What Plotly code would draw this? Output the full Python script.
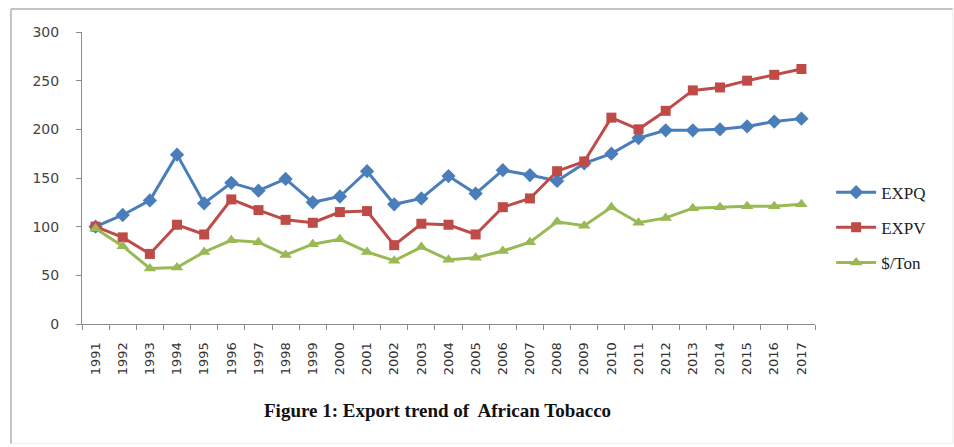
import plotly.graph_objects as go

years = [str(y) for y in range(1991, 2018)]
expq = [100, 112, 127, 174, 124, 145, 137, 149, 125, 131, 157, 123, 129, 152, 134,
        158, 153, 147, 165, 175, 191, 199, 199, 200, 203, 208, 211]
expv = [100, 89, 72, 102, 92, 128, 117, 107, 104, 115, 116, 81, 103, 102, 92,
        120, 129, 157, 167, 212, 200, 219, 240, 243, 250, 256, 262]
per_ton = [98, 80, 57, 58, 74, 86, 84, 71, 82, 87, 74, 65, 79, 66, 68,
           75, 84, 105, 101, 120, 104, 109, 119, 120, 121, 121, 123]
y_ticks = [0, 50, 100, 150, 200, 250, 300]
title_text = "Figure 1: Export trend of  African Tobacco"

fig = go.Figure()
fig.add_trace(go.Scatter(x=years, y=expq, name="EXPQ", mode="lines+markers", legendgroup="a",
                         line=dict(color="#4a7ebb", width=3),
                         marker=dict(symbol="diamond", size=11, color="#4a7ebb")))
fig.add_trace(go.Scatter(x=years, y=expv, name="EXPV", mode="lines+markers", legendgroup="b",
                         line=dict(color="#be4b48", width=3),
                         marker=dict(symbol="square", size=10, color="#be4b48")))
fig.add_trace(go.Scatter(x=years, y=per_ton, name="$/Ton", mode="lines+markers", legendgroup="c",
                         line=dict(color="#98b954", width=3),
                         marker=dict(symbol="triangle-up", size=11, color="#98b954")))

fig.update_layout(
    width=954, height=447,
    margin=dict(l=82, r=139, t=32, b=123),
    paper_bgcolor="white", plot_bgcolor="white",
    showlegend=True,
    legend=dict(x=1.022, y=0.33, xanchor="left", yanchor="middle",
                font=dict(family="Liberation Serif", size=17, color="#222"),
                itemwidth=40, tracegroupgap=10, bgcolor="rgba(0,0,0,0)"),
    xaxis=dict(type="category", tickangle=-90, showgrid=False,
               showline=True, linecolor="#8c8c8c", linewidth=1,
               ticks="outside", ticklen=5, tickcolor="#8c8c8c", tickson="boundaries",
               tickfont=dict(family="DejaVu Sans", size=13, color="#333"),
               ticklabelstandoff=12,
               range=[-0.5, 26.5]),
    yaxis=dict(range=[0, 300], tickvals=y_ticks, showgrid=False,
               showline=True, linecolor="#8c8c8c", linewidth=1,
               ticks="outside", ticklen=5, tickcolor="#8c8c8c",
               tickfont=dict(family="DejaVu Sans", size=14, color="#444"),
               ticklabelstandoff=14,
               zeroline=False),
    annotations=[dict(text="<b>" + title_text + "</b>", xref="paper", yref="paper",
                      x=0.485, y=-0.295, xanchor="center", yanchor="middle",
                      showarrow=False,
                      font=dict(family="Liberation Serif", size=19, color="#111"))],
    shapes=[
        dict(type="line", xref="paper", yref="paper", x0=-0.0969, x1=-0.0969,
             y0=-0.41, y1=1.079, line=dict(color="#c4c4c4", width=2)),
        dict(type="line", xref="paper", yref="paper", x0=-0.0969, x1=1.188,
             y0=1.079, y1=1.079, line=dict(color="#c4c4c4", width=2)),
        dict(type="line", xref="paper", yref="paper", x0=-0.0969, x1=1.188,
             y0=-0.41, y1=-0.41, line=dict(color="#ececec", width=1)),
        dict(type="line", xref="paper", yref="paper", x0=1.188, x1=1.188,
             y0=-0.41, y1=1.079, line=dict(color="#ececec", width=1)),
    ],
)

fig.write_html("out.html")
